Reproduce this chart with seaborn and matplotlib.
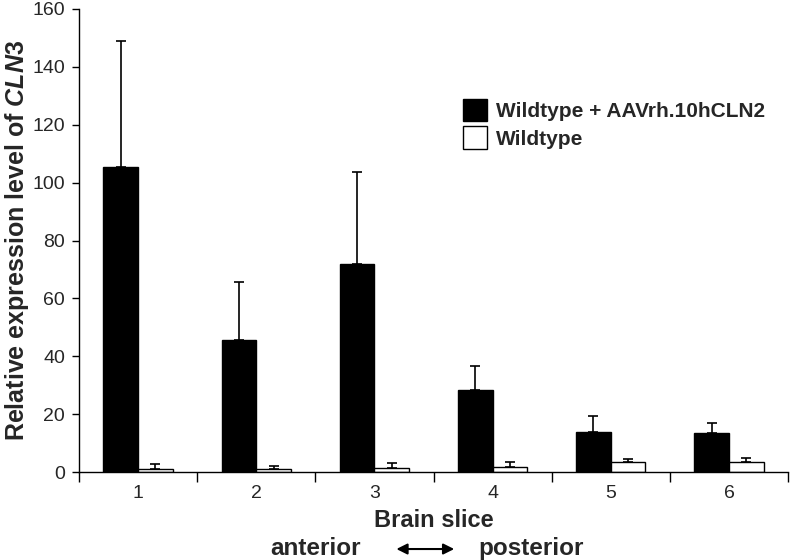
import numpy as np
import pandas as pd
import matplotlib
matplotlib.use("Agg")
import matplotlib.pyplot as plt
import seaborn as sns

# Values
slices = ["1", "2", "3", "4", "5", "6"]
groups = ["Wildtype + AAVrh.10hCLN2", "Wildtype"]
treated_mean = [105.5, 45.5, 72.0, 28.5, 14.0, 13.5]
treated_err = [43.5, 20.0, 31.5, 8.0, 5.5, 3.5]
wildtype_mean = [1.0, 1.0, 1.5, 1.6, 3.5, 3.4]
wildtype_err = [1.8, 1.2, 1.7, 1.9, 1.0, 1.5]

df = pd.DataFrame({
    "slice": slices * 2,
    "group": [groups[0]] * 6 + [groups[1]] * 6,
    "value": treated_mean + wildtype_mean,
    "err": treated_err + wildtype_err,
})

sns.set_style("ticks")
plt.rcParams["font.family"] = ["Liberation Sans", "DejaVu Sans"]
plt.rcParams["mathtext.fontset"] = "custom"
plt.rcParams["mathtext.it"] = "Liberation Sans:italic:bold"
plt.rcParams["mathtext.rm"] = "Liberation Sans:bold"

fig = plt.figure(figsize=(7.92, 5.6), dpi=100)
ax = fig.add_axes([0.0997, 0.157, 0.8953, 0.827])

sns.barplot(
    data=df, x="slice", y="value", hue="group", order=slices, hue_order=groups,
    palette={groups[0]: "black", groups[1]: "white"},
    edgecolor="black", linewidth=1.0, width=0.585, errorbar=None, ax=ax,
)

# upper-only error bars at each bar's center
for cont, g in zip(ax.containers, groups):
    sub = df[df["group"] == g]
    xs = [b.get_x() + b.get_width() / 2 for b in cont]
    ax.errorbar(xs, sub["value"], yerr=[np.zeros(len(sub)), sub["err"]],
                fmt="none", ecolor="black", elinewidth=1.2, capsize=3.8, capthick=1.2)

ax.set_xlim(-0.5, 5.5)
ax.set_ylim(0, 160)
ax.set_yticks(range(0, 161, 20))
ax.set_xticks(np.arange(-0.5, 6, 1), minor=True)
ax.tick_params(axis="x", which="major", length=0, pad=9, labelsize=14)
ax.tick_params(axis="x", which="minor", length=7, width=1, color="black")
ax.tick_params(axis="y", length=5, width=1, color="black", labelsize=14, pad=5)
for s in ["left", "bottom"]:
    ax.spines[s].set_color("black")
    ax.spines[s].set_linewidth(1.0)
sns.despine(ax=ax)

ax.set_xlabel("Brain slice", fontsize=17, fontweight="bold", labelpad=5)
ax.set_ylabel(r"Relative expression level of $\mathit{CLN3}$",
              fontsize=18, fontweight="bold")
ax.yaxis.set_label_coords(-0.068, 0.5)

ax.legend(loc="upper left", bbox_to_anchor=(0.585, 0.824), bbox_transform=fig.transFigure,
          frameon=False, prop={"weight": "bold", "size": 15},
          handlelength=1.15, handleheight=1.3, handletextpad=0.4, labelspacing=0.25,
          borderpad=0, borderaxespad=0)

fig.text(0.398, 0.009, "anterior", ha="center", va="baseline", fontsize=17.5, fontweight="bold")
fig.text(0.670, 0.009, "posterior", ha="center", va="baseline", fontsize=17.5, fontweight="bold")
fig.patches.append(matplotlib.patches.FancyArrowPatch(
    (0.497, 0.0196), (0.577, 0.0196), transform=fig.transFigure,
    arrowstyle="<|-|>", mutation_scale=16, color="black", linewidth=1.5))

fig.savefig("out.png", dpi=100)
